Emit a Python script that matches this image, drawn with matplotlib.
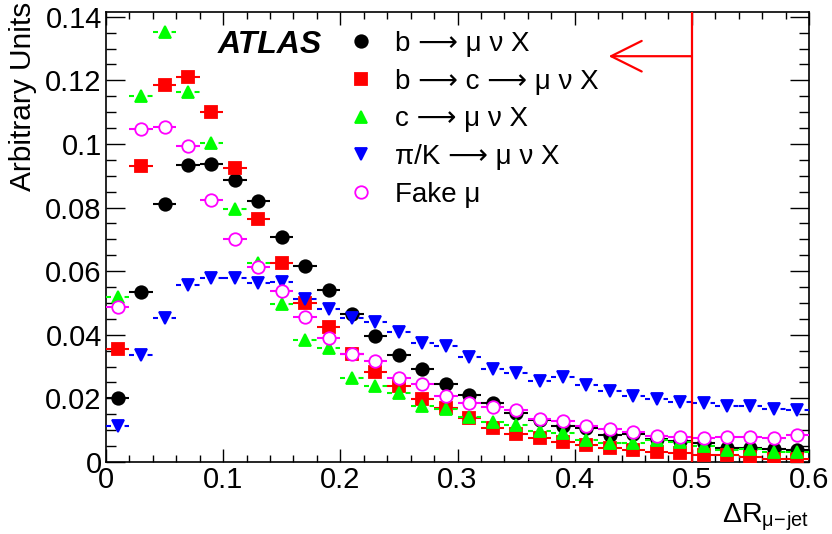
import numpy as np
import matplotlib
matplotlib.use("Agg")
import matplotlib.pyplot as plt
from matplotlib.lines import Line2D
from matplotlib.ticker import MultipleLocator, FormatStrFormatter

plt.rcParams['font.family'] = ['Liberation Sans', 'DejaVu Sans']
plt.rcParams['mathtext.fontset'] = 'custom'
plt.rcParams['mathtext.rm'] = 'Liberation Sans'
plt.rcParams['mathtext.it'] = 'Liberation Sans:italic'

# ---- data ----
bin_width = 0.02
x_centers = np.round(np.arange(0.01, 0.6, 0.02), 3)

b_mu = [0.0201, 0.0534, 0.0810, 0.0933, 0.0937, 0.0886, 0.0821, 0.0709, 0.0616, 0.0542,
        0.0464, 0.0395, 0.0337, 0.0292, 0.0246, 0.0211, 0.0187, 0.0154, 0.0132, 0.0113,
        0.0106, 0.0085, 0.0088, 0.0072, 0.0067, 0.0059, 0.0045, 0.0043, 0.0040, 0.0038]
b_c_mu = [0.0355, 0.0931, 0.1184, 0.1210, 0.1102, 0.0923, 0.0765, 0.0627, 0.0500, 0.0425,
          0.0340, 0.0282, 0.0238, 0.0199, 0.0169, 0.0138, 0.0106, 0.0088, 0.0075, 0.0064,
          0.0054, 0.0043, 0.0038, 0.0033, 0.0027, 0.0022, 0.0021, 0.0017, 0.0011, 0.0009]
c_mu = [0.0518, 0.1152, 0.1352, 0.1163, 0.1003, 0.0797, 0.0627, 0.0498, 0.0385, 0.0360,
        0.0264, 0.0238, 0.0217, 0.0177, 0.0166, 0.0143, 0.0127, 0.0115, 0.0099, 0.0090,
        0.0069, 0.0059, 0.0059, 0.0069, 0.0062, 0.0050, 0.0038, 0.0040, 0.0033, 0.0030]
piK_mu = [0.0114, 0.0337, 0.0453, 0.0558, 0.0579, 0.0579, 0.0563, 0.0565, 0.0511, 0.0482,
          0.0453, 0.0439, 0.0408, 0.0374, 0.0364, 0.0329, 0.0292, 0.0280, 0.0256, 0.0267,
          0.0243, 0.0222, 0.0208, 0.0199, 0.0190, 0.0187, 0.0177, 0.0177, 0.0166, 0.0164]
fake_mu = [0.0488, 0.1047, 0.1052, 0.0994, 0.0823, 0.0702, 0.0612, 0.0537, 0.0456, 0.0390,
           0.0340, 0.0318, 0.0263, 0.0246, 0.0209, 0.0187, 0.0174, 0.0163, 0.0135, 0.0128,
           0.0114, 0.0104, 0.0093, 0.0082, 0.0080, 0.0075, 0.0078, 0.0078, 0.0075, 0.0085]

ARROW = '\u27f6'
labels = [f'b {ARROW} \u03bc \u03bd X', f'b {ARROW} c {ARROW} \u03bc \u03bd X',
          f'c {ARROW} \u03bc \u03bd X', f'\u03c0/K {ARROW} \u03bc \u03bd X', 'Fake \u03bc']
cut_value = 0.5
arrow_y = 0.1276
arrow_tip_x = 0.429

# ---- figure ----
fig = plt.figure(figsize=(8.32, 5.34), dpi=100)
ax = fig.add_axes([106/832, 72/534, 703/832, 450/534])

styles = [
    dict(data=b_mu, marker='o', color='black', mfc='black', dashed=False, z=3),
    dict(data=b_c_mu, marker='s', color='#ff0000', mfc='#ff0000', dashed=False, z=4),
    dict(data=c_mu, marker='^', color='#00ff00', mfc='#00ff00', dashed=True, z=5),
    dict(data=piK_mu, marker='v', color='#0000ff', mfc='#0000ff', dashed=True, z=6),
    dict(data=fake_mu, marker='o', color='#ff00ff', mfc='white', dashed=False, z=7),
]

handles = []
for st, lab in zip(styles, labels):
    eb = ax.errorbar(x_centers, st['data'], xerr=bin_width/2, fmt=st['marker'],
                     color=st['color'], mfc=st['mfc'], mec=st['color'], ms=9,
                     mew=1.3, elinewidth=1.5, capsize=0, zorder=st['z'])
    if st['dashed']:
        for lc in eb[2]:
            lc.set_linestyle((0, (2.4, 6.5)))
    mfc = 'none' if st['mfc'] == 'white' else st['mfc']
    handles.append(Line2D([], [], marker=st['marker'], ls='none', color=st['color'],
                          mfc=mfc, mec=st['color'], ms=9, mew=1.3))

ax.set_xlim(0, 0.6)
ax.set_ylim(0, 0.1415)

ax.axvline(cut_value, color='#ff0000', lw=1.6, zorder=8)
ax.annotate('', xy=(arrow_tip_x, arrow_y), xytext=(cut_value, arrow_y),
            arrowprops=dict(arrowstyle='->,head_length=1.1,head_width=0.55',
                            color='#ff0000', lw=1.6, mutation_scale=20,
                            shrinkA=0, shrinkB=0), zorder=8)

ax.xaxis.set_major_locator(MultipleLocator(0.1))
ax.xaxis.set_minor_locator(MultipleLocator(0.02))
ax.yaxis.set_major_locator(MultipleLocator(0.02))
ax.yaxis.set_minor_locator(MultipleLocator(0.005))
ax.xaxis.set_major_formatter(FormatStrFormatter('%g'))
ax.yaxis.set_major_formatter(FormatStrFormatter('%g'))

ax.tick_params(axis='both', which='both', direction='in', top=True, right=True,
               width=1.0, labelsize=21)
ax.tick_params(axis='x', which='major', length=9.5, pad=3)
ax.tick_params(axis='x', which='minor', length=5)
ax.tick_params(axis='y', which='major', length=14, pad=3)
ax.tick_params(axis='y', which='minor', length=7)
for sp in ax.spines.values():
    sp.set_linewidth(1.2)

fig.text(23/832, 1 - 2/534, 'Arbitrary Units', rotation=90, ha='center', va='top',
         fontsize=21.5)
ax.text(1.0, -0.088, r'$\mathrm{\Delta R}_{\mathrm{\mu\!-\!jet}}$', transform=ax.transAxes,
        ha='right', va='top', fontsize=20.5)

ax.text(218/832, 1 - 45/534, 'ATLAS', transform=fig.transFigure, fontsize=23,
        fontweight='bold', fontstyle='italic', ha='left', va='center')

leg = ax.legend(handles, labels, loc='upper left', frameon=False, fontsize=20,
                bbox_to_anchor=(347/832, 1 - 31/534), bbox_transform=fig.transFigure,
                handlelength=1.0, handletextpad=0.72, labelspacing=0.42, borderpad=0,
                borderaxespad=0)

fig.savefig('out.png', dpi=100)
